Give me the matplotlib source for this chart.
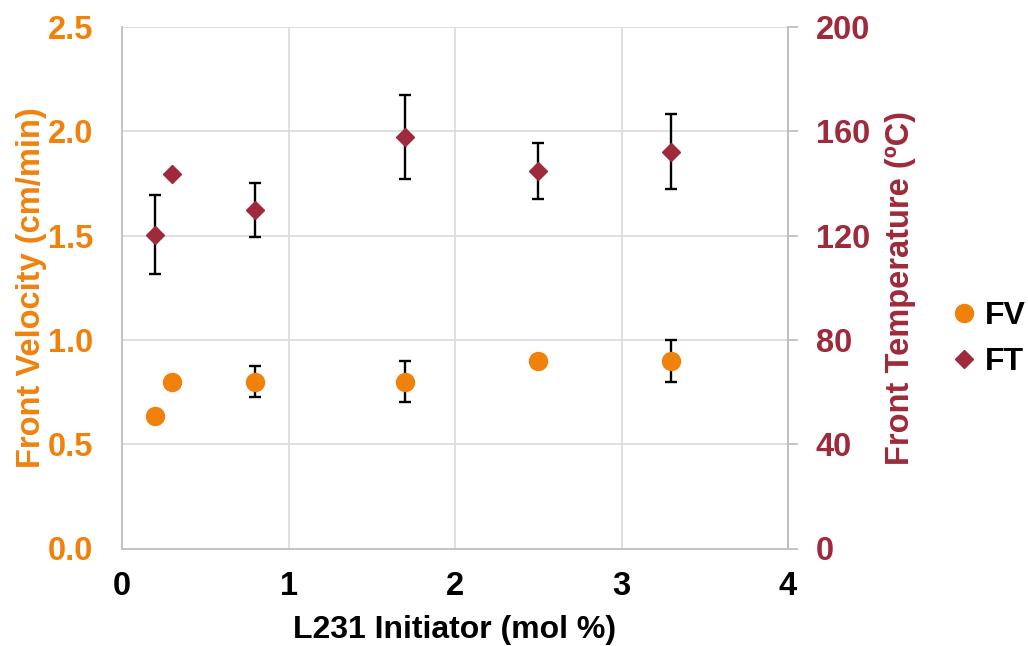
import matplotlib
matplotlib.use("Agg")
import matplotlib.pyplot as plt
from matplotlib.lines import Line2D

# Initiator loading (mol %)
fv_x = [0.2, 0.3, 0.8, 1.7, 2.5, 3.3]
fv_y = [0.635, 0.80, 0.80, 0.80, 0.90, 0.90]
fv_err = [0.0, 0.0, 0.075, 0.10, 0.0, 0.10]

ft_x = [0.2, 0.3, 0.8, 1.7, 2.5, 3.3]
ft_y = [120.3, 143.6, 129.8, 157.8, 144.9, 152.2]
ft_err = [15.1, 0.0, 10.4, 16.0, 10.8, 14.4]

x_ticks = [0, 1, 2, 3, 4]
fv_ticks = [0.0, 0.5, 1.0, 1.5, 2.0, 2.5]
ft_ticks = [0, 40, 80, 120, 160, 200]

ORANGE = "#F0820C"
RED = "#9E2A3B"
GRID = "#D9D9D9"
SPINE = "#BFBFBF"

plt.rcParams["font.family"] = ["Liberation Sans", "DejaVu Sans"]
plt.rcParams["font.weight"] = "bold"
FS = 23.5
FS_X = 23

fig = plt.figure(figsize=(10.28, 6.46), dpi=100)
ax = fig.add_axes([122 / 1028, 1 - 548.5 / 646, (788 - 122) / 1028, (548.5 - 27) / 646])
ax2 = ax.twinx()

# Front velocity (left axis)
ax.errorbar(fv_x, fv_y, yerr=fv_err, fmt="o", color=ORANGE, ms=13,
            mec=ORANGE, ecolor="black", elinewidth=1.7, capsize=4.5,
            capthick=1.7, zorder=3)
# Front temperature (right axis)
ax2.errorbar(ft_x, ft_y, yerr=ft_err, fmt="D", color=RED, ms=9.5,
             mec=RED, ecolor="black", elinewidth=1.7, capsize=4.5,
             capthick=1.7, zorder=3)

ax.set_xlim(0, 4)
ax.set_ylim(0, 2.5)
ax2.set_ylim(0, 200)
ax.set_xticks(x_ticks)
ax.set_yticks(fv_ticks)
ax2.set_yticks(ft_ticks)
ax.set_xticklabels([str(v) for v in x_ticks])
ax.set_yticklabels([f"{v:.1f}" for v in fv_ticks])
ax2.set_yticklabels([str(v) for v in ft_ticks])

ax.grid(True, color=GRID, lw=1.2, zorder=0)
ax.set_axisbelow(True)

for a in (ax, ax2):
    a.spines["top"].set_visible(False)
    for s in ("left", "right", "bottom"):
        a.spines[s].set_color(SPINE)
        a.spines[s].set_linewidth(1.3)
ax2.spines["left"].set_visible(False)
ax2.spines["bottom"].set_visible(False)

ax.tick_params(axis="x", length=0, pad=16, labelsize=FS, labelcolor="black")
ax.tick_params(axis="y", length=0, pad=21, labelsize=FS, labelcolor=ORANGE)
ax2.tick_params(axis="y", direction="out", length=7, width=1.3, color=SPINE,
                pad=13, labelsize=FS, labelcolor=RED)

ax.set_xlabel("L231 Initiator (mol %)", fontsize=FS_X, fontweight="bold",
              color="black")
ax.xaxis.set_label_coords(0.5, -0.128)
ax.set_ylabel("Front Velocity (cm/min)", fontsize=FS, fontweight="bold",
              color=ORANGE)
ax.yaxis.set_label_coords(-0.112, 0.5)
ax2.set_ylabel("Front Temperature (ºC)", fontsize=FS, fontweight="bold",
               color=RED)
ax2.yaxis.set_label_coords(1.146, 0.5)

handles = [
    Line2D([], [], ls="none", marker="o", color=ORANGE, ms=13),
    Line2D([], [], ls="none", marker="D", color=RED, ms=9.5),
]
fig.legend(handles, ["FV", "FT"], loc="center left",
           bbox_to_anchor=(950 / 1028, 1 - 339 / 646), frameon=False,
           handlelength=0.85, handletextpad=0.25,
           labelspacing=0.5, borderpad=0, borderaxespad=0,
           prop={"weight": "bold", "size": FS_X})

fig.savefig("out.png", dpi=100)
